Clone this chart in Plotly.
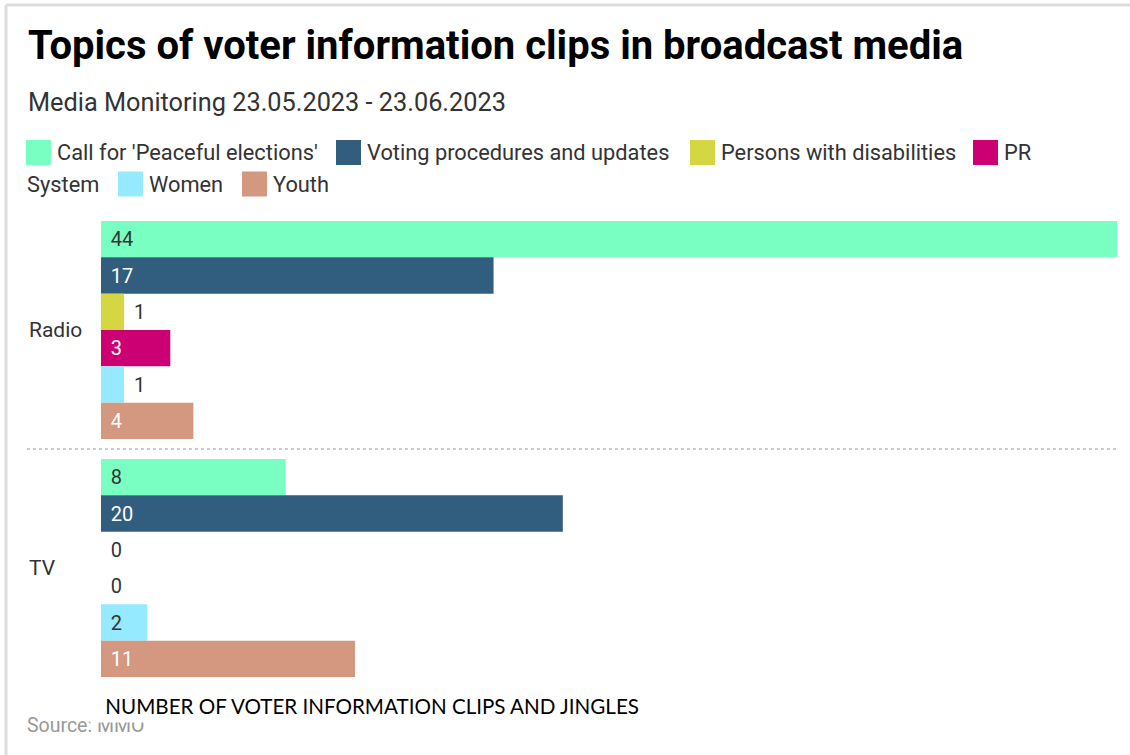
import plotly.graph_objects as go

# ---------------- data ----------------
categories = ["Radio", "TV"]
series_names = [
    "Call for 'Peaceful elections'",
    "Voting procedures and updates",
    "Persons with disabilities",
    "PR System",
    "Women",
    "Youth",
]
radio_values = [44, 17, 1, 3, 1, 4]
tv_values = [8, 20, 0, 0, 2, 11]

title_text = "Topics of voter information clips in broadcast media"
subtitle_text = "Media Monitoring 23.05.2023 - 23.06.2023"
x_axis_title = "NUMBER OF VOTER INFORMATION CLIPS AND JINGLES"
source_text = "Source: MMO"

# ---------------- style ----------------
colors = ["#79ffc1", "#315e7e", "#d4d642", "#cc0073", "#96eaff", "#d3987f"]
label_colors = ["#333333", "#ffffff", "#333333", "#ffffff", "#333333", "#ffffff"]
TEXT = "#333333"
FONT = "Roboto"

W, H = 1130, 755
ML, MR, MT, MB = 101, 13, 211, 68
PW = W - ML - MR
PH = H - MT - MB


def px(x):
    return (x - ML) / PW


def py(y):
    return (H - MB - y) / PH


PAD = "\u2004"  # small leading space for the value labels

fig = go.Figure()
for i, name in enumerate(series_names):
    vals = [radio_values[i], tv_values[i]]
    positions = ["inside" if v >= 2 else "outside" for v in vals]
    fig.add_trace(
        go.Bar(
            y=categories,
            x=vals,
            name=name,
            orientation="h",
            marker=dict(color=colors[i], line=dict(width=0)),
            text=[PAD + str(v) for v in vals],
            textposition=positions,
            insidetextanchor="start",
            textangle=0,
            textfont=dict(family=FONT, size=20),
            insidetextfont=dict(family=FONT, size=20, color=label_colors[i]),
            outsidetextfont=dict(family=FONT, size=20, color=TEXT),
            cliponaxis=False,
            showlegend=False,
            hovertemplate="%{y}<br>" + name + ": %{x}<extra></extra>",
        )
    )

annotations = []
shapes = []

# subtitle
annotations.append(dict(
    text=subtitle_text, xref="paper", yref="paper", x=px(26), y=py(103),
    xanchor="left", yanchor="middle", showarrow=False,
    font=dict(family=FONT, size=25.3, color=TEXT),
))

# custom legend (wrapped like the original)
legend_swatch_x = [26, 336, 690, 973, 118, 242]
legend_line = [1, 1, 1, 1, 2, 2]
line_center = {1: 152.5, 2: 184.0}
SW = 25
for i, name in enumerate(series_names):
    cy = line_center[legend_line[i]]
    x0 = legend_swatch_x[i]
    shapes.append(dict(
        type="rect", xref="paper", yref="paper",
        x0=px(x0), x1=px(x0 + SW), y0=py(cy - SW / 2), y1=py(cy + SW / 2),
        fillcolor=colors[i], line=dict(width=0), layer="above",
    ))
    words = name.split(" ")
    if name == "PR System":
        parts = [(words[0], x0 + 29, cy), (" ".join(words[1:]), 25, line_center[2])]
    else:
        parts = [(name, x0 + 29, cy)]
    for t, tx, ty in parts:
        annotations.append(dict(
            text=t, xref="paper", yref="paper", x=px(tx), y=py(ty),
            xanchor="left", yanchor="middle", showarrow=False,
            font=dict(family=FONT, size=21.8, color=TEXT),
        ))

# category labels (left aligned)
for c in categories:
    annotations.append(dict(
        text=c, xref="paper", yref="y", x=px(27), y=c,
        xanchor="left", yanchor="middle", showarrow=False,
        font=dict(family=FONT, size=21, color=TEXT),
    ))

# source (partly hidden under the axis title box, as in the original)
annotations.append(dict(
    text=source_text, xref="paper", yref="paper", x=px(25), y=py(725),
    xanchor="left", yanchor="middle", showarrow=False,
    font=dict(family=FONT, size=19.5, color="#999999"),
))
# x axis title
annotations.append(dict(
    text=x_axis_title, xref="paper", yref="paper", x=px(640), y=py(688),
    xanchor="right", yanchor="top", showarrow=False, align="right",
    width=549, height=33, borderpad=0, bgcolor="#ffffff",
    font=dict(family="Lato", size=20.6, color="#000000"),
))

# dotted separator between the groups
shapes.append(dict(
    type="line", xref="paper", yref="y", x0=px(27), x1=px(1118), y0=0.5, y1=0.5,
    line=dict(color="#cccccc", width=2, dash="dot"), layer="below",
))
# frame lines (top and left)
shapes.append(dict(type="line", xref="paper", yref="paper",
                   x0=px(6), x1=px(W), y0=py(5), y1=py(5),
                   line=dict(color="#dddddd", width=3)))
shapes.append(dict(type="line", xref="paper", yref="paper",
                   x0=px(6), x1=px(6), y0=py(5), y1=py(H),
                   line=dict(color="#dddddd", width=3)))

fig.update_layout(
    width=W, height=H,
    margin=dict(l=ML, r=MR, t=MT, b=MB, pad=0),
    paper_bgcolor="#ffffff", plot_bgcolor="#ffffff",
    barmode="group", bargap=0.084, bargroupgap=0,
    title=dict(
        text=title_text, xref="container", yref="container",
        x=28 / W, xanchor="left", y=1 - 45 / H, yanchor="middle",
        font=dict(family=FONT, size=40, color="#000000", weight=700),
    ),
    xaxis=dict(range=[0, 44], visible=False, fixedrange=True),
    yaxis=dict(autorange="reversed", showticklabels=False, showgrid=False,
               zeroline=False, showline=False, ticks="", fixedrange=True),
    annotations=annotations,
    shapes=shapes,
    showlegend=False,
    font=dict(family=FONT, color=TEXT),
)

fig.write_html("out.html")
